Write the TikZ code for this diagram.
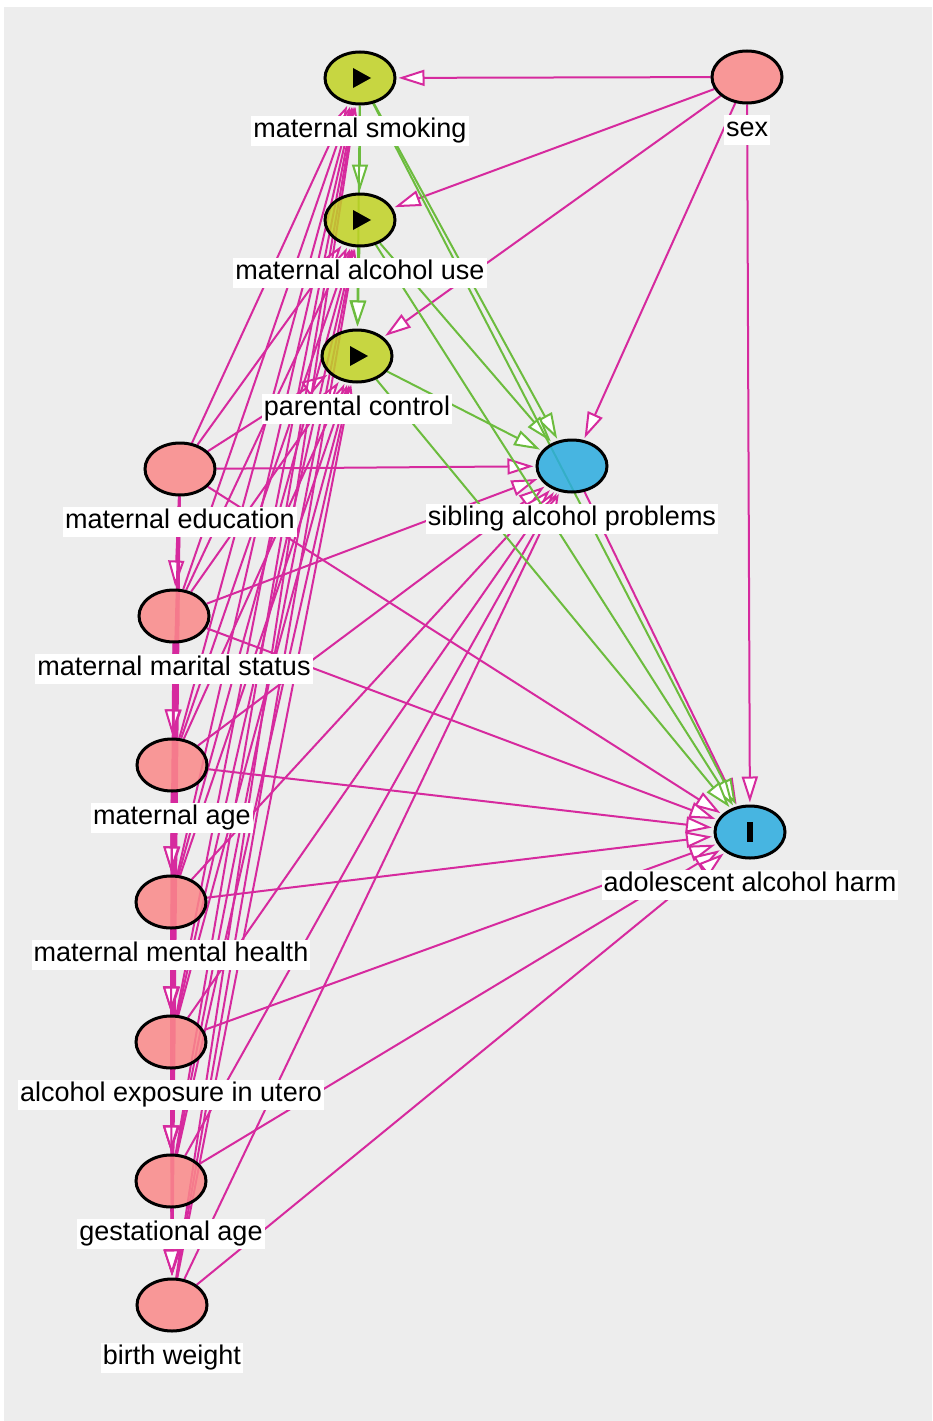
\documentclass[tikz,border=0pt]{standalone}
\usepackage{fontspec}
\setmainfont{Liberation Sans}
\usetikzlibrary{arrows.meta,positioning,shapes.geometric,backgrounds}
\usepackage{xcolor}

\definecolor{bgc}{RGB}{237,237,237}
\definecolor{adjpink}{RGB}{251,137,137}
\definecolor{expgreen}{RGB}{193,210,36}
\definecolor{outblue}{RGB}{43,172,224}
\definecolor{biasline}{RGB}{214,42,158}
\definecolor{causeline}{RGB}{108,188,62}

\begin{document}
\begin{tikzpicture}[
  x=1pt, y=-1pt,
  var/.style={ellipse, draw=black, line width=3pt, fill=adjpink, fill opacity=0.85,
              minimum width=70pt, minimum height=52pt, inner sep=0pt},
  anc/.style={var, fill=outblue},
  expo/.style={var, fill=expgreen, path picture={
      \fill[black, fill opacity=1] ([xshift=-7pt,yshift=-10pt]path picture bounding box.center)
        -- ++(0pt,20pt) -- ++(18pt,-10pt) -- cycle;}},
  outc/.style={anc, path picture={
      \fill[black, fill opacity=1] ([xshift=-3pt,yshift=-10pt]path picture bounding box.center)
        rectangle ++(6pt,20pt);}},
  lbl/.style={fill=white, inner sep=2pt, font=\fontsize{27}{30}\selectfont,
              text height=20pt, text depth=6pt},
  bias/.style={biasline, line width=2pt, shorten >=2pt,
               -{Triangle[length=26pt, width=16pt, fill=white]}},
  cause/.style={bias, causeline},
]
  \useasboundingbox (0,0) rectangle (932,1421);

  % Exposures, outcome and sibling
  \node[expo] (ms)  at (360, 78)  {};
  \node[expo] (mau) at (360, 220) {};
  \node[expo] (pc)  at (357, 356) {};
  \node[anc]  (sap) at (572, 466) {};
  \node[outc] (aah) at (750, 832) {};
  \node[var]  (sex) at (747, 77)  {};

  % Maternal and birth covariates (left column)
  \node[var] (me)  at (180, 469)  {};
  \node[var] (mms) at (174, 616)  {};
  \node[var] (ma)  at (172, 765)  {};
  \node[var] (mmh) at (171, 902)  {};
  \node[var] (aeu) at (171, 1042) {};
  \node[var] (ga)  at (171, 1181) {};
  \node[var] (bw)  at (172, 1305) {};

  \begin{scope}[on background layer]
    \fill[bgc] (4, 7) rectangle (932, 1421);

    % Biasing edges
    \foreach \c in {me,mms,ma,mmh,aeu,ga,bw}
      \foreach \t in {ms,mau,pc,sap,aah}
        \draw[bias] (\c) -- (\t);
    \foreach \a/\bs in {me/{mms,ma,mmh,aeu,ga,bw}, mms/{ma,mmh,aeu,ga,bw},
                        ma/{mmh,aeu,ga,bw}, mmh/{aeu,ga,bw}, aeu/{ga,bw}, ga/{bw}}
      \foreach \b in \bs
        \draw[bias] (\a) -- (\b);
    \draw[bias] (sex) -- (ms);
    \draw[bias] (sex) -- (mau);
    \draw[bias] (sex) -- (pc);
    \draw[bias] (sex) -- (sap);
    \draw[bias] (sex) -- (aah);
    \draw[bias] (sap) -- (aah);

    % Causal edges
    \draw[cause] (ms) -- (mau);
    \draw[cause] (ms) -- (pc);
    \draw[cause] (mau) -- (pc);
    \draw[cause] (ms) -- (sap);
    \draw[cause] (mau) -- (sap);
    \draw[cause] (pc) -- (sap);
    \draw[cause] (ms) -- (aah);
    \draw[cause] (mau) -- (aah);
    \draw[cause] (pc) -- (aah);
  \end{scope}

  % Labels
  \node[lbl, below=10pt of ms]  (ms-l)  {maternal smoking};
  \node[lbl, below=10pt of mau] (mau-l) {maternal alcohol use};
  \node[lbl, below=10pt of pc]  (pc-l)  {parental control};
  \node[lbl, below=10pt of sap] (sap-l) {sibling alcohol problems};
  \node[lbl, below=10pt of aah] (aah-l) {adolescent alcohol harm};
  \node[lbl, below=10pt of sex] (sex-l) {sex};
  \node[lbl, below=10pt of me]  (me-l)  {maternal education};
  \node[lbl, below=10pt of mms] (mms-l) {maternal marital status};
  \node[lbl, below=10pt of ma]  (ma-l)  {maternal age};
  \node[lbl, below=10pt of mmh] (mmh-l) {maternal mental health};
  \node[lbl, below=10pt of aeu] (aeu-l) {alcohol exposure in utero};
  \node[lbl, below=10pt of ga]  (ga-l)  {gestational age};
  \node[lbl, below=10pt of bw]  (bw-l)  {birth weight};
\end{tikzpicture}
\end{document}
